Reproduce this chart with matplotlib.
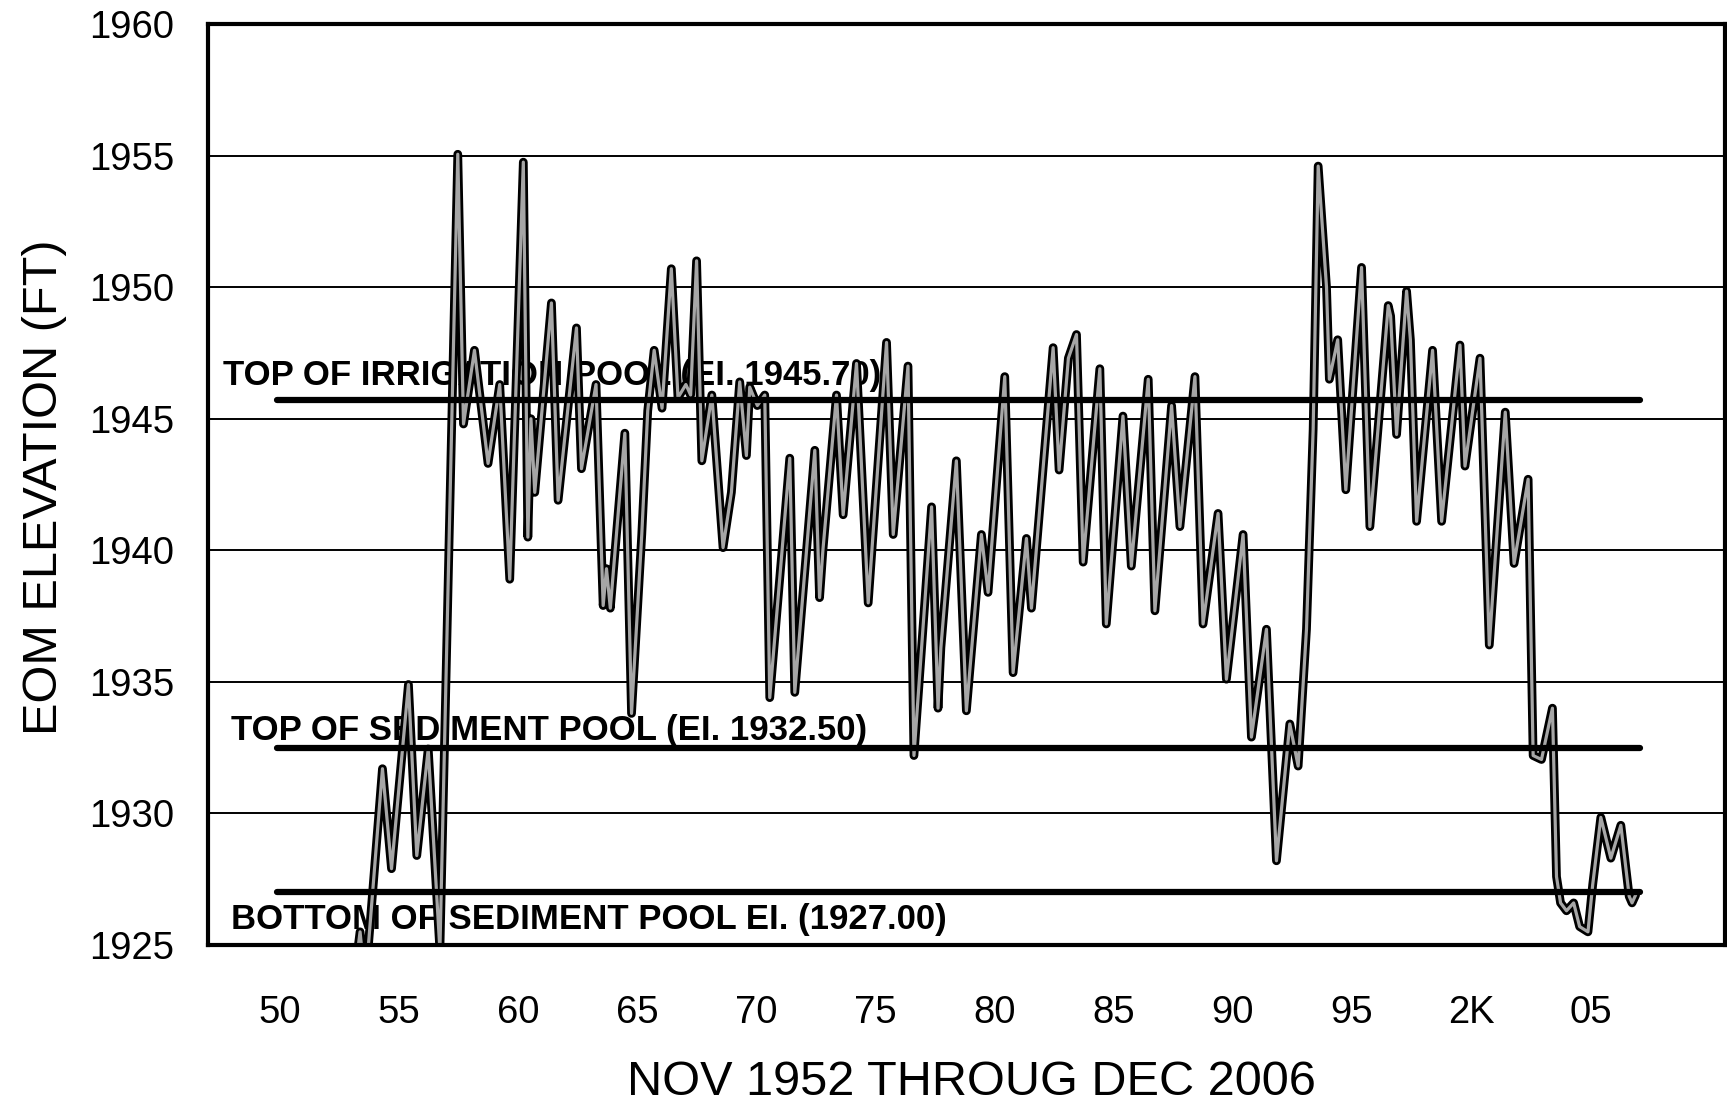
import matplotlib
matplotlib.use('Agg')
import matplotlib.pyplot as plt

plt.rcParams['font.family'] = ['Liberation Sans', 'DejaVu Sans']

# turning points of the end-of-month elevation trace
years = [1952.83, 1953.38, 1953.60, 1954.32, 1954.70, 1955.41, 1955.76, 1956.24, 1956.73,
         1957.48, 1957.72, 1958.18, 1958.75, 1959.24, 1959.66, 1960.23, 1960.42, 1960.55,
         1960.71, 1961.41, 1961.69, 1962.46, 1962.67, 1963.28, 1963.58, 1963.72, 1963.88,
         1964.49, 1964.77, 1965.20, 1965.45, 1965.72, 1966.05, 1966.44, 1966.72, 1967.05,
         1967.25, 1967.50, 1967.72, 1968.14, 1968.61, 1968.96, 1969.31, 1969.59, 1969.73,
         1970.05, 1970.36, 1970.57, 1971.41, 1971.62, 1972.46, 1972.66, 1972.80, 1973.37,
         1973.65, 1974.21, 1974.70, 1975.47, 1975.75, 1976.37, 1976.62, 1977.36, 1977.63,
         1977.75, 1978.40, 1978.82, 1979.45, 1979.73, 1980.43, 1980.78, 1981.34, 1981.55,
         1982.46, 1982.71, 1983.10, 1983.44, 1983.72, 1984.42, 1984.69, 1985.39, 1985.74,
         1986.45, 1986.73, 1987.43, 1987.78, 1988.41, 1988.75, 1989.38, 1989.73, 1990.43,
         1990.78, 1991.41, 1991.83, 1992.39, 1992.74, 1993.09, 1993.37, 1993.58, 1993.93,
         1994.05, 1994.40, 1994.74, 1995.40, 1995.75, 1996.52, 1996.62, 1996.87, 1997.29,
         1997.45, 1997.71, 1998.38, 1998.76, 1999.53, 1999.74, 2000.37, 2000.76, 2001.43,
         2001.80, 2002.39, 2002.60, 2002.95, 2003.41, 2003.58, 2003.75, 2004.00, 2004.30,
         2004.55, 2004.90, 2005.10, 2005.44, 2005.86, 2006.28, 2006.63, 2006.75, 2006.90]
elev = [1921.5, 1925.5, 1923.5, 1931.7, 1927.9, 1934.9, 1928.4, 1932.45, 1924.8,
        1955.05, 1944.8, 1947.6, 1943.3, 1946.3, 1938.9, 1954.75, 1940.5, 1945.0,
        1942.2, 1949.4, 1941.9, 1948.45, 1943.1, 1946.3, 1937.9, 1939.3, 1937.8,
        1944.45, 1933.8, 1940.6, 1945.3, 1947.6, 1945.4, 1950.7, 1945.8, 1946.3,
        1945.9, 1951.0, 1943.4, 1945.9, 1940.1, 1942.2, 1946.4, 1943.6, 1946.2,
        1945.5, 1945.9, 1934.4, 1943.5, 1934.6, 1943.8, 1938.2, 1940.0, 1945.9,
        1941.35, 1947.1, 1938.0, 1947.9, 1940.6, 1947.0, 1932.2, 1941.65, 1934.0,
        1936.3, 1943.4, 1933.9, 1940.6, 1938.4, 1946.6, 1935.35, 1940.45, 1937.8,
        1947.7, 1943.05, 1947.3, 1948.2, 1939.55, 1946.9, 1937.2, 1945.1, 1939.4,
        1946.5, 1937.7, 1945.5, 1940.9, 1946.6, 1937.2, 1941.4, 1935.1, 1940.6,
        1932.9, 1937.0, 1928.2, 1933.4, 1931.8, 1937.0, 1944.6, 1954.6, 1950.0,
        1946.5, 1948.0, 1942.3, 1950.75, 1940.9, 1949.3, 1948.9, 1944.4, 1949.85,
        1948.0, 1941.1, 1947.6, 1941.1, 1947.8, 1943.2, 1947.3, 1936.4, 1945.25,
        1939.5, 1942.7, 1932.2, 1932.05, 1934.0, 1927.6, 1926.6, 1926.3, 1926.6,
        1925.7, 1925.5, 1927.3, 1929.85, 1928.3, 1929.55, 1926.85, 1926.6, 1926.9]

pool_levels = [1945.70, 1932.50, 1927.00]
pool_names = ['TOP OF IRRIGATION POOL (EI. 1945.70)',
              'TOP OF SEDIMENT POOL (EI. 1932.50)',
              'BOTTOM OF SEDIMENT POOL EI. (1927.00)']

tick_years = [1950, 1955, 1960, 1965, 1970, 1975, 1980, 1985, 1990, 1995, 2000, 2005]
tick_names = ['50', '55', '60', '65', '70', '75', '80', '85', '90', '95', '2K', '05']


fig = plt.figure(figsize=(17.27, 11.05), dpi=100)
ax = fig.add_axes([208/1727, 1-945/1105, (1725-208)/1727, (945-24)/1105])

ax.set_xlim(1947.0, 2010.65)
ax.set_ylim(1925, 1960)

#gridlines
ax.set_yticks(range(1925, 1961, 5))
ax.grid(axis='y', color='black', lw=1.4, zorder=1)
ax.set_axisbelow(True)

#pool labels sit under the trace
lab_x = [1947.63, 1947.98, 1947.98]
lab_y = [1946.3, 1932.8, 1925.6]
for name, lx, ly in zip(pool_names, lab_x, lab_y):
    ax.text(lx, ly, name, fontsize=25, fontweight='bold', ha='left', va='baseline', zorder=2)

#double-stroke trace: dark outline, grey core
ax.plot(years, elev, color='black', lw=6.3, solid_joinstyle='round',
        solid_capstyle='round', zorder=3)
ax.plot(years, elev, color='#a6a6a6', lw=2.3, solid_joinstyle='round',
        solid_capstyle='round', zorder=3.1)

ax.hlines(pool_levels, 1949.9, 2007.1, color='black', lw=4.5, capstyle='round', zorder=4)

ax.set_xticks(tick_years)
ax.set_xticklabels(tick_names)
ax.tick_params(axis='both', length=0, labelsize=27.5)
ax.tick_params(axis='y', pad=24.5)
ax.tick_params(axis='x', pad=36)

for sp in ax.spines.values():
    sp.set_linewidth(3)
    sp.set_zorder(5)

fig.text(971.4/1727, 0.009, 'NOV 1952 THROUG DEC 2006', fontsize=35,
         ha='center', va='baseline')
fig.text(57.3/1727, 1-487/1105, 'EOM ELEVATION (FT)', fontsize=35, rotation=90,
         rotation_mode='anchor', ha='center', va='baseline')

fig.savefig('out.png', dpi=100)
